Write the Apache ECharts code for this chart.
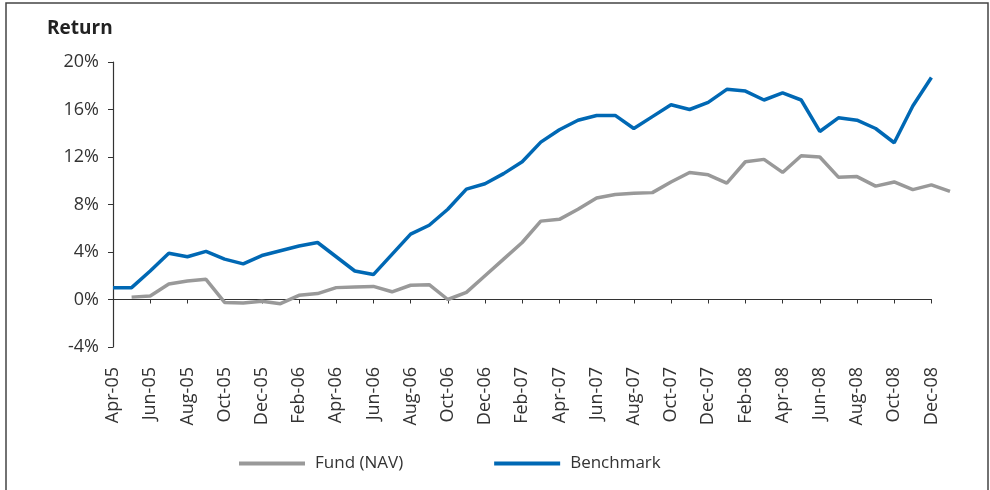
<!DOCTYPE html>
<html>
<head>
<meta charset="utf-8">
<script src="https://cdn.jsdelivr.net/npm/echarts@6/dist/echarts.min.js"></script>
<style>
  html, body { margin: 0; padding: 0; background: #fff; }
  #chart { width: 990px; height: 490px; }
</style>
</head>
<body>
<div id="chart"></div>
<script>
var months = ['Apr-05','May-05','Jun-05','Jul-05','Aug-05','Sep-05','Oct-05','Nov-05','Dec-05',
  'Jan-06','Feb-06','Mar-06','Apr-06','May-06','Jun-06','Jul-06','Aug-06','Sep-06','Oct-06','Nov-06','Dec-06',
  'Jan-07','Feb-07','Mar-07','Apr-07','May-07','Jun-07','Jul-07','Aug-07','Sep-07','Oct-07','Nov-07','Dec-07',
  'Jan-08','Feb-08','Mar-08','Apr-08','May-08','Jun-08','Jul-08','Aug-08','Sep-08','Oct-08','Nov-08','Dec-08',
  'Jan-09'];

// returns in %
var fundNav = [null, 0.2, 0.3, 1.3, 1.55, 1.7, -0.25, -0.3, -0.15,
  -0.35, 0.35, 0.5, 1.0, 1.05, 1.1, 0.65, 1.2, 1.25, 0.0, 0.6, 2.0,
  3.4, 4.8, 6.6, 6.75, 7.6, 8.55, 8.85, 8.95, 9.0, 9.9, 10.7, 10.5,
  9.8, 11.6, 11.8, 10.7, 12.1, 12.0, 10.3, 10.35, 9.55, 9.9, 9.25, 9.65,
  9.1];

var benchmark = [1.0, 1.0, 2.4, 3.9, 3.6, 4.05, 3.4, 3.0, 3.7,
  4.1, 4.5, 4.8, 3.6, 2.4, 2.1, 3.8, 5.5, 6.25, 7.6, 9.3, 9.75,
  10.6, 11.6, 13.25, 14.3, 15.1, 15.5, 15.5, 14.4, 15.4, 16.4, 16.0, 16.6,
  17.7, 17.55, 16.8, 17.4, 16.8, 14.15, 15.3, 15.1, 14.4, 13.2, 16.3, 18.7];

var yTicks = { min: -4, max: 20, step: 4 };
var lastTick = 44; // visible axis ends at Dec-08; the fund's Jan-09 point runs one month past it

function pairs(vals) {
  return vals.map(function (v, i) { return [i, v]; });
}

var chart = echarts.init(document.getElementById('chart'));
var font = '"Open Sans", "Noto Sans", sans-serif';
var monthPx = 18.6;
var left = 113;

var option = {
  animation: false,
  backgroundColor: '#fff',
  textStyle: { fontFamily: font },
  graphic: [{
    type: 'rect',
    shape: { x: 6, y: 3, width: 982, height: 500 },
    style: { fill: 'none', stroke: '#444', lineWidth: 1.5 },
    silent: true
  }],
  title: {
    text: 'Return',
    left: 42,
    top: 14,
    textStyle: { fontSize: 19, fontWeight: 'bold', color: '#222', fontFamily: font }
  },
  legend: {
    left: 239,
    top: 455,
    padding: 0,
    itemWidth: 66,
    itemHeight: 4,
    itemGap: 91,
    icon: 'rect',
    textStyle: { fontSize: 17, color: '#333', padding: [0, 0, 0, 5] },
    data: ['Fund (NAV)', 'Benchmark']
  },
  grid: [
    { left: left, width: monthPx * lastTick, top: 62, bottom: 143 },
    // same frame, one month wider, so the Jan-09 fund point fits
    { left: left, width: monthPx * (lastTick + 1), top: 62, bottom: 143 }
  ],
  xAxis: [
    {
      type: 'value', gridIndex: 0, min: 0, max: lastTick, interval: 2,
      axisLine: { onZero: true, lineStyle: { color: '#333', width: 1.2 } },
      axisTick: { show: true, length: 4, lineStyle: { color: '#333' } },
      axisLabel: { show: false },
      splitLine: { show: false }
    },
    {
      type: 'value', gridIndex: 0, min: 0, max: lastTick, interval: 2,
      position: 'bottom',
      axisLine: { show: false, onZero: false },
      axisTick: { show: false },
      axisLabel: {
        rotate: 90,
        margin: 20,
        fontSize: 18,
        color: '#333',
        formatter: function (v) { return months[v] || ''; }
      },
      splitLine: { show: false }
    },
    {
      type: 'value', gridIndex: 1, min: 0, max: lastTick + 1, show: false,
      splitLine: { show: false }
    }
  ],
  yAxis: [
    {
      type: 'value', gridIndex: 0,
      min: yTicks.min,
      max: yTicks.max,
      interval: yTicks.step,
      axisLine: { show: true, lineStyle: { color: '#333', width: 1.2 } },
      axisTick: { show: true, length: 5, lineStyle: { color: '#333' } },
      axisLabel: {
        formatter: function (v) { return v + '%'; },
        fontSize: 18,
        color: '#333',
        margin: 14
      },
      splitLine: { show: false }
    },
    {
      type: 'value', gridIndex: 1, min: yTicks.min, max: yTicks.max, show: false,
      splitLine: { show: false }
    }
  ],
  series: [
    {
      name: 'Fund (NAV)',
      type: 'line',
      data: pairs(fundNav),
      xAxisIndex: 2,
      yAxisIndex: 1,
      symbol: 'none',
      lineStyle: { color: '#999999', width: 3.5 },
      itemStyle: { color: '#999999' }
    },
    {
      name: 'Benchmark',
      type: 'line',
      data: pairs(benchmark),
      xAxisIndex: 0,
      yAxisIndex: 0,
      symbol: 'none',
      clip: false,
      lineStyle: { color: '#0068b4', width: 3.5 },
      itemStyle: { color: '#0068b4' }
    }
  ]
};

chart.setOption(option);
</script>
</body>
</html>
